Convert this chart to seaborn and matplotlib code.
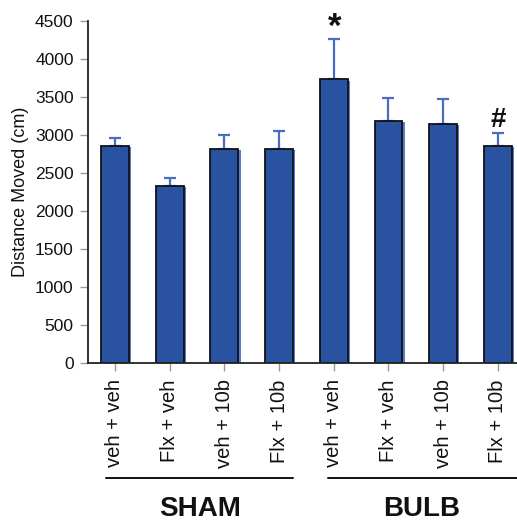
import matplotlib
matplotlib.use("Agg")
import matplotlib.pyplot as plt
import matplotlib.patheffects as pe
import matplotlib.transforms as mtransforms
import numpy as np
import pandas as pd
import seaborn as sns

# Open-field distance by surgery group and drug treatment (mean and upper SEM)
groups = ["SHAM", "SHAM", "SHAM", "SHAM", "BULB", "BULB", "BULB", "BULB"]
treatments = ["veh + veh", "Flx + veh", "veh + 10b", "Flx + 10b",
              "veh + veh", "Flx + veh", "veh + 10b", "Flx + 10b"]
means = [2860, 2335, 2820, 2820, 3730, 3185, 3145, 2860]
sem = [105, 95, 180, 225, 525, 300, 325, 165]
y_ticks = [0, 500, 1000, 1500, 2000, 2500, 3000, 3500, 4000, 4500]
marks = {4: "*", 7: "#"}

df = pd.DataFrame({
    "condition": [f"{g}|{t}" for g, t in zip(groups, treatments)],
    "group": groups,
    "treatment": treatments,
    "distance": means,
    "sem": sem,
})

sns.set_theme(style="white")
plt.rcParams["font.family"] = ["Liberation Sans", "DejaVu Sans"]

W, H = 517, 522
fig = plt.figure(figsize=(W / 100, H / 100), dpi=100)
ax = fig.add_axes([88.3 / W, 1 - 363.3 / H, (W - 88.3) / W, (363.3 - 20.7) / H])

bar_color = "#2952a1"
sns.barplot(data=df, x="condition", y="distance", order=list(df["condition"]),
            color=bar_color, saturation=1, width=0.51, errorbar=None,
            edgecolor="#111111", linewidth=1.3, ax=ax, zorder=3)

for patch in ax.patches:
    patch.set_path_effects([
        pe.SimplePatchShadow(offset=(1.6, -0.9), shadow_rgbFace="#5a7bd0", alpha=1.0),
        pe.Normal(),
    ])

x = np.arange(len(means))
ax.errorbar(x, means, yerr=[np.zeros(len(sem)), sem], fmt="none",
            ecolor="#4a6cc4", elinewidth=1.6, capsize=4.5, capthick=1.6, zorder=2)

ax.set_ylim(0, 4500)
ax.set_xlim(-0.488, 7.35)
ax.set_yticks(y_ticks)
ax.set_yticklabels([str(v) for v in y_ticks], fontsize=12.5, color="#111111")
ax.set_xticks(x)
ax.set_xticklabels(treatments, rotation=90, fontsize=14.5, color="#111111")
ax.set_xlabel("")
ax.set_ylabel("Distance Moved (cm)", fontsize=13, color="#111111", labelpad=4)

sns.despine(ax=ax)
for side in ("left", "bottom"):
    ax.spines[side].set_color("#222222")
    ax.spines[side].set_linewidth(1.3)
ax.spines["left"].set_zorder(5)
ax.spines["bottom"].set_zorder(5)
ax.tick_params(axis="both", which="major", direction="out", length=6,
               width=1.0, color="#999999", left=True, bottom=True)
ax.tick_params(axis="y", pad=4.5)
ax.tick_params(axis="x", pad=5.5)

# significance marks above the error caps
for i, sym in marks.items():
    size = 25 if sym == "*" else 20
    dy = 2 if sym == "*" else 4
    ax.annotate(sym, xy=(i, means[i] + sem[i]), xytext=(0.5, dy),
                textcoords="offset points", ha="center", va="baseline",
                fontsize=size, fontweight="bold", color="#111111",
                annotation_clip=False)

# group brackets and names beneath the treatment labels
trans = mtransforms.blended_transform_factory(ax.transData, ax.transAxes)
line_y = (363.3 - 478.3) / 342.6
text_y = (363.3 - 515.5) / 342.6
ax.plot([-0.165, 3.249], [line_y, line_y], transform=trans, color="#111111",
        lw=1.4, clip_on=False)
ax.plot([3.90, 7.35], [line_y, line_y], transform=trans, color="#111111",
        lw=1.4, clip_on=False)
ax.text(1.56, text_y, "SHAM", transform=trans, ha="center", va="baseline",
        fontsize=20, fontweight="bold", color="#111111")
ax.text(5.61, text_y, "BULB", transform=trans, ha="center", va="baseline",
        fontsize=20, fontweight="bold", color="#111111")

fig.savefig("out.png", dpi=100)
